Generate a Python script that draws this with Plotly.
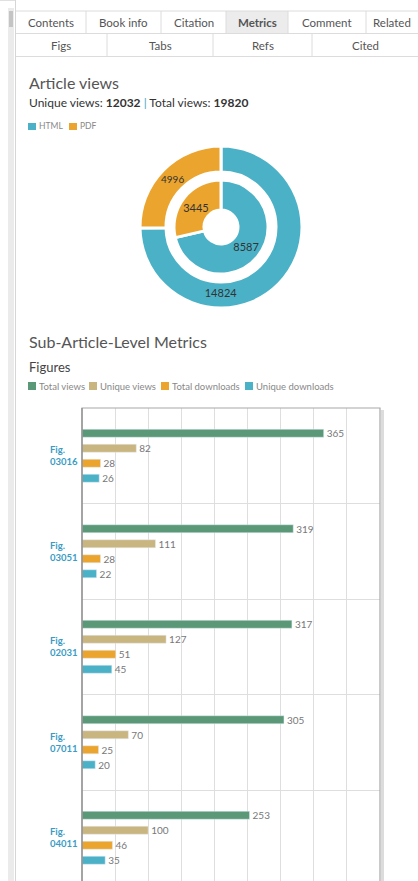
import plotly.graph_objects as go

W, H = 418, 881

# ---------------- data ----------------
tab_row1 = ["Contents", "Book info", "Citation", "Metrics", "Comment", "Related"]
tab_row2 = ["Figs", "Tabs", "Refs", "Cited"]

pie_labels = ["HTML", "PDF"]
unique_views = [8587, 3445]
total_views = [14824, 4996]
pie_colors = ["#4bb1c7", "#eba42e"]

figures = ["Fig.<br>03016", "Fig.<br>03051", "Fig.<br>02031", "Fig.<br>07011", "Fig.<br>04011"]
series_names = ["Total views", "Unique views", "Total downloads", "Unique downloads"]
s_total_views = [365, 319, 317, 305, 253]
s_unique_views = [82, 111, 127, 70, 100]
s_total_downloads = [28, 28, 51, 25, 46]
s_unique_downloads = [26, 22, 45, 20, 35]
series_colors = ["#5a9877", "#c9b580", "#eba42e", "#4bb1c7"]

FONT = "Lato"


def px(x):
    return x / W


def py(y):
    return 1 - y / H


fig = go.Figure()

# ---------------- donut ----------------
cx, cy = 221, 227
r_out, r_in = 81, 47
for vals, r, hole in ((total_views, r_out, 55 / 81), (unique_views, r_in, 17 / 47)):
    fig.add_trace(go.Pie(
        labels=pie_labels, values=vals, sort=False, direction="counterclockwise",
        rotation=0, hole=hole,
        marker=dict(colors=pie_colors, line=dict(color="white", width=3)),
        texttemplate="%{value:.0f}", textposition="inside", insidetextorientation="horizontal",
        textfont=dict(size=11, color="#333", family=FONT),
        domain=dict(x=[px(cx - r), px(cx + r)], y=[py(cy + r), py(cy - r)]),
        showlegend=False, hoverinfo="label+value"))

# ---------------- bars ----------------
series_vals = [s_total_views, s_unique_views, s_total_downloads, s_unique_downloads]
for name, vals, col in zip(series_names, series_vals, series_colors):
    fig.add_trace(go.Bar(
        y=figures, x=vals, name=name, orientation="h",
        marker=dict(color=col), text=vals, textposition="outside",
        textfont=dict(size=10, color="#777", family=FONT), constraintext="none",
        cliponaxis=False, showlegend=False))

plot_x0, plot_x1 = 82, 380
plot_top = 408
band = 95.5
n_vis = (H - plot_top) / band

fig.update_layout(
    width=W, height=H, margin=dict(l=0, r=0, t=0, b=0),
    paper_bgcolor="white", plot_bgcolor="white",
    font=dict(family=FONT),
    barmode="group", bargap=1 - 60 / band, bargroupgap=0.467,
    xaxis=dict(domain=[px(plot_x0), px(plot_x1)], range=[0, 450], dtick=50,
               showgrid=True, gridcolor="#dedede", gridwidth=1, zeroline=False,
               showticklabels=False, showline=False, fixedrange=True),
    yaxis=dict(domain=[0, py(plot_top)], type="category",
               range=[-0.5 + n_vis, -0.5], tickson="boundaries",
               showgrid=True, gridcolor="#dedede", gridwidth=1,
               showticklabels=False, ticks="", showline=False, zeroline=False,
               fixedrange=True),
)

shapes = []
annotations = []

# left page strip
shapes.append(dict(type="rect", xref="paper", yref="paper", x0=px(8), x1=px(14),
                   y0=0, y1=py(8), fillcolor="#ebebeb", line=dict(width=0), layer="below"))
shapes.append(dict(type="rect", xref="paper", yref="paper", x0=px(9), x1=px(13),
                   y0=py(27), y1=py(11), fillcolor="#c4c4c4", line=dict(width=0)))
shapes.append(dict(type="line", xref="paper", yref="paper", x0=px(15.5), x1=px(15.5),
                   y0=0, y1=1, line=dict(color="#d6d6d6", width=1)))
shapes.append(dict(type="line", xref="paper", yref="paper", x0=px(0), x1=px(15),
                   y0=py(0.5), y1=py(0.5), line=dict(color="#e0e0e0", width=1)))

# tabs
row1_edges = [16, 86, 161, 226, 288, 366, 430]
row2_edges = [16, 107, 213, 312, 430]
t1, t2, t3 = 11, 33.5, 56.5
shapes.append(dict(type="rect", xref="paper", yref="paper", x0=px(226), x1=px(288),
                   y0=py(t2), y1=py(t1), fillcolor="#ececec", line=dict(width=0), layer="below"))
for yy in (t1, t2, t3):
    shapes.append(dict(type="line", xref="paper", yref="paper", x0=px(16), x1=1,
                       y0=py(yy), y1=py(yy), line=dict(color="#dcdcdc", width=1)))
for xe in row1_edges[1:-1]:
    shapes.append(dict(type="line", xref="paper", yref="paper", x0=px(xe), x1=px(xe),
                       y0=py(t2), y1=py(t1), line=dict(color="#dcdcdc", width=1)))
for xe in row2_edges[1:-1]:
    shapes.append(dict(type="line", xref="paper", yref="paper", x0=px(xe), x1=px(xe),
                       y0=py(t3), y1=py(t2), line=dict(color="#dcdcdc", width=1)))
for i, lab in enumerate(tab_row1):
    xc = (row1_edges[i] + row1_edges[i + 1]) / 2
    if i == len(tab_row1) - 1:
        xc = 392
    txt = "<b>%s</b>" % lab if lab == "Metrics" else lab
    annotations.append(dict(xref="paper", yref="paper", x=px(xc), y=py(22.5), text=txt,
                            showarrow=False, xanchor="center", yanchor="middle",
                            font=dict(size=11.5, color="#555", family=FONT)))
for i, lab in enumerate(tab_row2):
    xc = (row2_edges[i] + min(row2_edges[i + 1], 418)) / 2
    annotations.append(dict(xref="paper", yref="paper", x=px(xc), y=py(45), text=lab,
                            showarrow=False, xanchor="center", yanchor="middle",
                            font=dict(size=11.5, color="#555", family=FONT)))

# headings
annotations.append(dict(xref="paper", yref="paper", x=px(27), y=py(82), text="Article views",
                        showarrow=False, xanchor="left", yanchor="middle",
                        font=dict(size=16, color="#555", family=FONT)))
annotations.append(dict(xref="paper", yref="paper", x=px(27), y=py(103),
                        text="Unique views: <b>%d</b> <span style='color:#4aa3c8'>|</span> Total views: <b>%d</b>"
                             % (sum(unique_views), sum(total_views)),
                        showarrow=False, xanchor="left", yanchor="middle",
                        font=dict(size=12, color="#333", family=FONT)))
# pie legend
lx = [28, 69]
for x0, lab, col in zip(lx, pie_labels, pie_colors):
    shapes.append(dict(type="rect", xref="paper", yref="paper", x0=px(x0), x1=px(x0 + 8),
                       y0=py(130), y1=py(123), fillcolor=col, line=dict(width=0)))
    annotations.append(dict(xref="paper", yref="paper", x=px(x0 + 9), y=py(126.5), text=lab,
                            showarrow=False, xanchor="left", yanchor="middle",
                            font=dict(size=8.5, color="#888", family=FONT)))

annotations.append(dict(xref="paper", yref="paper", x=px(27), y=py(342),
                        text="Sub-Article-Level Metrics", showarrow=False, xanchor="left",
                        yanchor="middle", font=dict(size=16, color="#555", family=FONT)))
annotations.append(dict(xref="paper", yref="paper", x=px(27), y=py(367), text="Figures",
                        showarrow=False, xanchor="left", yanchor="middle",
                        font=dict(size=13, color="#444", family=FONT)))
bx = [28, 89, 161, 245]
for x0, lab, col in zip(bx, series_names, series_colors):
    shapes.append(dict(type="rect", xref="paper", yref="paper", x0=px(x0), x1=px(x0 + 8),
                       y0=py(390), y1=py(382), fillcolor=col, line=dict(width=0)))
    annotations.append(dict(xref="paper", yref="paper", x=px(x0 + 9), y=py(386), text=lab,
                            showarrow=False, xanchor="left", yanchor="middle",
                            font=dict(size=9.5, color="#888", family=FONT)))

# bar chart frame (with a soft right-hand shadow)
shapes.append(dict(type="line", xref="paper", yref="paper", x0=px(plot_x1 + 2.5), x1=px(plot_x1 + 2.5),
                   y0=py(H + 10), y1=py(plot_top + 2), line=dict(color="#dcdcdc", width=3)))
shapes.append(dict(type="rect", xref="paper", yref="paper", x0=px(plot_x0), x1=px(plot_x1),
                   y0=py(H + 10), y1=py(plot_top), line=dict(color="#a8a8a8", width=1.2)))
shapes.append(dict(type="line", xref="paper", yref="paper", x0=px(plot_x0), x1=px(plot_x0),
                   y0=py(H + 10), y1=py(plot_top), line=dict(color="#8a8a8a", width=1.2)))

# category labels
for f in figures:
    annotations.append(dict(xref="paper", yref="y", x=px(48), y=f, text="<b>%s</b>" % f,
                            showarrow=False, xanchor="left", yanchor="middle", align="left",
                            font=dict(size=9.5, color="#3a9cc4", family=FONT)))

fig.update_layout(shapes=shapes, annotations=annotations)
fig.write_html("out.html", config={"displayModeBar": False},
               post_script="document.body.style.margin='0px';document.body.style.overflow='hidden';")
